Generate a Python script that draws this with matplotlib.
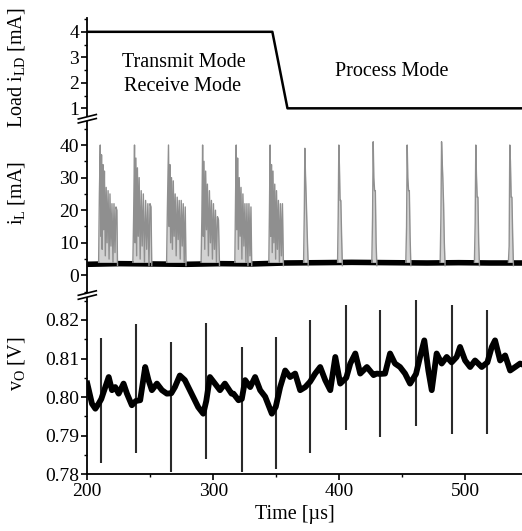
"""
Load current, inductor current and output voltage vs. time
(three stacked panels sharing one time axis, with axis-break marks)
"""

import matplotlib
matplotlib.use("Agg")
import matplotlib.pyplot as plt
from matplotlib.patches import Polygon
from matplotlib.ticker import MultipleLocator

W_PX, H_PX, DPI = 522, 531, 100
OUT = "out.png"

# ---- data ------------------------------------------------------------
XLIM = (200, 545.3)

# top panel: load current i_LD [mA]
LOAD_T = [200, 347, 359, 545.3]
LOAD_V = [4.0, 4.0, 1.0, 1.0]

MODE_TEXT = ["Transmit Mode", "Receive Mode", "Process Mode"]
MODE_T = [277, 276, 442]
MODE_V = [2.81, 1.86, 2.46]

# middle panel: inductor current baseline [mA]
IL_BASE_T = [200, 225, 252, 279, 306, 331, 357, 385, 410, 440, 470, 495, 520, 545.3]
IL_BASE_V = [3.4, 3.6, 3.5, 3.4, 3.6, 3.5, 3.8, 3.9, 4.0, 3.9, 3.8, 3.9, 3.8, 3.8]

# inductor current bursts (one list per pulse)
IL_BURST_T = [
    [209.0, 209.6, 210.3, 210.8, 211.3, 211.8, 212.4, 213.0, 213.6, 214.3, 215.0, 215.7,
     216.5, 217.3, 218.0, 218.8, 219.6, 220.4, 221.2, 222.0, 222.8, 223.5, 224.0],
    [236.2, 236.8, 237.5, 238.0, 238.6, 239.2, 239.8, 240.5, 241.2, 242.0, 242.8, 243.6,
     244.5, 245.4, 246.3, 247.2, 248.1, 249.0, 249.8, 250.6, 251.2],
    [263.0, 263.6, 264.5, 265.0, 265.6, 266.2, 266.9, 267.6, 268.3, 269.0, 269.8, 270.6,
     271.4, 272.2, 273.0, 273.8, 274.6, 275.4, 276.2, 277.0, 277.8, 278.4],
    [290.4, 291.0, 291.6, 292.1, 292.7, 293.3, 294.0, 294.7, 295.4, 296.2, 297.0, 297.8,
     298.6, 299.4, 300.2, 301.0, 301.8, 302.6, 303.4, 304.2, 305.0],
    [317.2, 317.8, 318.3, 318.8, 319.4, 320.0, 320.7, 321.4, 322.1, 322.8, 323.6, 324.4,
     325.2, 326.0, 326.8, 327.6, 328.4, 329.2, 330.0, 330.6],
    [344.2, 344.7, 345.2, 345.7, 346.3, 346.9, 347.5, 348.2, 348.9, 349.6, 350.3, 351.0,
     351.8, 352.6, 353.4, 354.2, 355.0, 355.8],
    [371.8, 372.4, 372.8, 373.3, 373.8, 374.3, 374.9, 375.5],
    [398.8, 399.3, 399.8, 400.3, 400.8, 401.4, 402.0, 402.6],
    [426.0, 426.6, 427.1, 427.6, 428.2, 428.8, 429.4, 430.0],
    [453.0, 453.6, 454.1, 454.6, 455.2, 455.8, 456.4, 457.0],
    [480.3, 480.9, 481.4, 481.9, 482.4, 483.0, 483.6, 484.2],
    [507.5, 508.1, 508.6, 509.1, 509.7, 510.3, 510.9, 511.5],
    [534.5, 535.1, 535.6, 536.1, 536.7, 537.3, 537.9, 538.5],
]
IL_BURST_V = [
    [4, 25, 40, 12, 37, 8, 34, 14, 32, 6, 27, 10, 26, 5, 25, 9, 22, 4, 22, 7, 21, 20, 3],
    [4, 18, 40, 10, 36, 6, 33, 12, 30, 5, 26, 9, 25, 4, 23, 8, 22, 3, 22, 21, 3],
    [4, 20, 40, 15, 34, 10, 30, 8, 29, 12, 25, 6, 24, 11, 23, 5, 23, 9, 22, 4, 21, 3],
    [4, 18, 40, 12, 35, 8, 32, 14, 28, 6, 26, 10, 23, 5, 22, 8, 20, 4, 18, 17, 3],
    [4, 25, 40, 14, 36, 8, 30, 12, 27, 5, 25, 9, 22, 4, 22, 3, 22, 6, 21, 3],
    [4, 20, 40, 12, 34, 7, 32, 10, 28, 5, 26, 8, 23, 4, 22, 6, 22, 3],
    [4, 20, 39, 31, 25, 18, 10, 3],
    [4, 18, 40, 33, 23, 23, 12, 3],
    [4, 18, 41, 30, 26, 26, 10, 3],
    [4, 15, 40, 30, 26, 26, 12, 3],
    [4, 18, 41, 35, 30, 22, 10, 3],
    [4, 16, 40, 31, 24, 24, 10, 3],
    [4, 9, 40, 35, 24, 24, 12, 3],
]

# bottom panel: output voltage v_O [V], slow part
VO_T = [200, 203.7, 206.4, 209, 211.1, 214.3, 217, 219.6, 222.2, 224.9,
        228.8, 231.5, 235.4, 238.6, 242, 246, 248.6, 251.3, 255.3, 259.3,
        263.2, 266.7, 269.6, 273.5, 277.5, 282.8, 288.1, 292.1, 294.5, 297.4,
        301.4, 305.4, 309.3, 314.6, 316.1, 320.1, 322.7, 325.4, 329.4, 333.3,
        337.3, 341.3, 346.6, 349.7, 353.2, 357.2, 361.1, 365.1, 369.1, 373.1,
        377, 381, 385, 389, 393, 397, 400.9, 405.7, 408.9, 412.9,
        416.8, 422.1, 427.4, 429.9, 432.5, 436.5, 440.5, 444.4, 448.4, 452.4,
        456.4, 461.1, 464.3, 467.7, 470.9, 473.6, 477.5, 481.5, 485.5, 489.4,
        493.4, 496.1, 500.1, 504.1, 508, 513.3, 517.8, 521.3, 523.9, 527.9,
        531.9, 535.9, 539.9, 543.8, 545.3]
VO_V = [0.8035, 0.7983, 0.7970, 0.7983, 0.7995, 0.8026, 0.8052, 0.8018, 0.8026, 0.8009,
        0.8035, 0.8009, 0.7979, 0.7990, 0.7992, 0.8078, 0.8044, 0.8018, 0.8035, 0.8018,
        0.8009, 0.8010, 0.8026, 0.8056, 0.8044, 0.8009, 0.7974, 0.7957, 0.7990, 0.8052,
        0.8035, 0.8018, 0.8035, 0.8009, 0.8009, 0.7992, 0.7995, 0.8044, 0.8026, 0.8052,
        0.8018, 0.8001, 0.7957, 0.7975, 0.8026, 0.8069, 0.8052, 0.8061, 0.8018, 0.8026,
        0.8040, 0.8061, 0.8078, 0.8044, 0.8018, 0.8104, 0.8035, 0.8050, 0.8087, 0.8113,
        0.8061, 0.8078, 0.8057, 0.8061, 0.8060, 0.8061, 0.8113, 0.8087, 0.8078, 0.8061,
        0.8035, 0.8060, 0.8104, 0.8147, 0.8069, 0.8018, 0.8113, 0.8087, 0.8104, 0.8090,
        0.8104, 0.8130, 0.8095, 0.8078, 0.8095, 0.8078, 0.8090, 0.8130, 0.8147, 0.8095,
        0.8108, 0.8069, 0.8078, 0.8087, 0.8085]

# fast spikes on v_O
VO_SPIKE_T = [211.1, 238.6, 266.7, 294.5, 322.7, 349.7, 377.0, 405.7, 432.5, 461.1, 489.4, 517.8]
VO_SPIKE_HI = [0.8154, 0.8190, 0.8143, 0.8192, 0.8130, 0.8156, 0.8200, 0.8238, 0.8225, 0.8251, 0.8238, 0.8225]
VO_SPIKE_LO = [0.7828, 0.7854, 0.7806, 0.7840, 0.7806, 0.7815, 0.7854, 0.7914, 0.7897, 0.7925, 0.7905, 0.7905]

# ---- layout (figure pixels) ------------------------------------------
LEFT_PX = 87.3
Y_EDGES_PX = [18.3, 117.0, 293.3, 474.3]   # top of top panel ... bottom axis


def style():
    plt.rcParams["font.family"] = ["Liberation Serif", "DejaVu Serif"]
    plt.rcParams["mathtext.fontset"] = "custom"
    plt.rcParams["mathtext.rm"] = "Liberation Serif"
    plt.rcParams["mathtext.it"] = "Liberation Serif:italic"
    plt.rcParams["axes.linewidth"] = 1.3
    plt.rcParams["xtick.major.width"] = 1.2
    plt.rcParams["ytick.major.width"] = 1.2
    plt.rcParams["xtick.minor.width"] = 1.0
    plt.rcParams["ytick.minor.width"] = 1.0
    plt.rcParams["xtick.major.size"] = 4
    plt.rcParams["ytick.major.size"] = 4
    plt.rcParams["xtick.minor.size"] = 2.5
    plt.rcParams["ytick.minor.size"] = 2.5


def make_axes(fig):
    axes = []
    for top, bot in zip(Y_EDGES_PX[:-1], Y_EDGES_PX[1:]):
        rect = [LEFT_PX / W_PX, 1 - bot / H_PX, 1 - LEFT_PX / W_PX, (bot - top) / H_PX]
        ax = fig.add_axes(rect)
        ax.set_xlim(*XLIM)
        ax.patch.set_alpha(0)
        for s in ("top", "right", "bottom"):
            ax.spines[s].set_visible(False)
        ax.tick_params(axis="y", labelsize=14, pad=2)
        axes.append(ax)
    return axes


def break_mark(fig, y_px):
    """Two slanted strokes across the left spine with a white gap between."""
    x0 = LEFT_PX
    a = [(x0 - 9, y_px + 2.0), (x0 + 9, y_px - 2.5)]
    b = [(x0 - 9, y_px + 6.0), (x0 + 9, y_px + 1.5)]
    to_fig = lambda p: (p[0] / W_PX, 1 - p[1] / H_PX)
    gap = Polygon([to_fig(a[0]), to_fig(a[1]), to_fig(b[1]), to_fig(b[0])],
                  closed=True, facecolor="white", edgecolor="none",
                  transform=fig.transFigure, zorder=20)
    fig.add_artist(gap)
    for seg in (a, b):
        p, q = to_fig(seg[0]), to_fig(seg[1])
        fig.add_artist(plt.Line2D([p[0], q[0]], [p[1], q[1]], color="black",
                                  lw=1.2, transform=fig.transFigure, zorder=21))


def main():
    style()
    fig = plt.figure(figsize=(W_PX / DPI, H_PX / DPI), dpi=DPI)
    ax_ld, ax_il, ax_vo = make_axes(fig)

    # load current
    ax_ld.plot(LOAD_T, LOAD_V, color="black", lw=1.8)
    ax_ld.set_ylim(0.66, 4.53)
    ax_ld.set_yticks([1, 2, 3, 4])
    ax_ld.yaxis.set_minor_locator(MultipleLocator(0.5))
    ax_ld.set_xticks([])
    for txt, t, v in zip(MODE_TEXT, MODE_T, MODE_V):
        ax_ld.text(t, v, txt, ha="center", va="center", fontsize=14.5)
    ax_ld.set_ylabel(r"Load i$_{\mathrm{LD}}$ [mA]", fontsize=14.5)
    ax_ld.yaxis.set_label_coords(-0.139, 0.5)

    # inductor current
    ax_il.plot(IL_BASE_T, IL_BASE_V, color="black", lw=4.0, solid_capstyle="butt", zorder=2)
    for bt, bv in zip(IL_BURST_T, IL_BURST_V):
        ax_il.fill_between(bt, 4, bv, color="#d2d2d2", lw=0, zorder=3)
        ax_il.plot(bt, bv, color="#8f8f8f", lw=1.0, zorder=4)
    ax_il.set_ylim(-5.5, 48.6)
    ax_il.set_yticks([0, 10, 20, 30, 40])
    ax_il.yaxis.set_minor_locator(MultipleLocator(5))
    ax_il.set_xticks([])
    ax_il.set_ylabel(r"i$_{\mathrm{L}}$ [mA]", fontsize=14.5)
    ax_il.yaxis.set_label_coords(-0.139, 0.57)

    # output voltage
    ax_vo.vlines(VO_SPIKE_T, VO_SPIKE_LO, VO_SPIKE_HI, color="#2a2a2a", lw=1.5, zorder=2)
    ax_vo.plot(VO_T, VO_V, color="black", lw=4.2, zorder=3)
    ax_vo.set_ylim(0.78, 0.8269)
    ax_vo.set_yticks([0.78, 0.79, 0.80, 0.81, 0.82])
    ax_vo.set_yticklabels(["0.78", "0.79", "0.80", "0.81", "0.82"])
    ax_vo.yaxis.set_minor_locator(MultipleLocator(0.005))
    ax_vo.spines["bottom"].set_visible(True)
    ax_vo.set_xticks([200, 300, 400, 500])
    ax_vo.xaxis.set_minor_locator(MultipleLocator(50))
    ax_vo.tick_params(axis="x", labelsize=14, pad=2)
    ax_vo.set_ylabel(r"v$_{\mathrm{O}}$ [V]", fontsize=14.5)
    ax_vo.yaxis.set_label_coords(-0.139, 0.61)
    ax_vo.set_xlabel("Time [\u00b5s]", fontsize=14.5)
    ax_vo.xaxis.set_label_coords(0.478, -0.17)

    break_mark(fig, Y_EDGES_PX[1])
    break_mark(fig, Y_EDGES_PX[2])

    fig.savefig(OUT, dpi=DPI)
    plt.close(fig)


if __name__ == "__main__":
    main()
